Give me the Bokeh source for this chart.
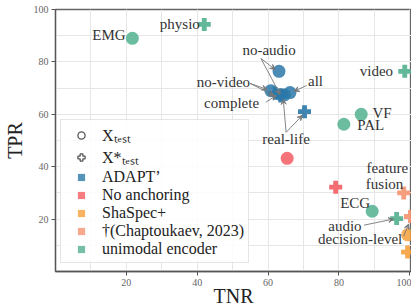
from bokeh.plotting import figure
from bokeh.models import (ColumnDataSource, FixedTicker, Legend, LegendItem,
                          Arrow, VeeHead, Range1d)
from bokeh.core.properties import value
from bokeh.embed import file_html
from bokeh.resources import INLINE

# ---------------- data ----------------
groups = ["ADAPT’", "No anchoring", "ShaSpec+", "†(Chaptoukaev, 2023)", "unimodal encoder"]
group_colors = ["#2a78a8", "#f25c62", "#f5a03c", "#f59470", "#52b08f"]

# X_test (circles)
circ_group = ["unimodal encoder", "unimodal encoder", "unimodal encoder", "unimodal encoder",
              "No anchoring", "ShaSpec+",
              "ADAPT’", "ADAPT’", "ADAPT’", "ADAPT’", "ADAPT’"]
circ_tnr = [21.7, 86.3, 81.4, 89.4, 65.4, 99.4, 63.1, 60.8, 63.5, 66.2, 64.6]
circ_tpr = [89.0, 60.0, 56.2, 23.0, 43.2, 14.0, 76.4, 69.0, 67.6, 68.3, 67.4]

# X*_test (plus)
plus_group = ["unimodal encoder", "unimodal encoder", "unimodal encoder",
              "No anchoring", "ShaSpec+", "†(Chaptoukaev, 2023)", "†(Chaptoukaev, 2023)",
              "ADAPT’", "ADAPT’", "ADAPT’"]
plus_tnr = [42.0, 98.6, 96.3, 79.1, 99.4, 98.3, 100.2, 70.3, 63.6, 62.0]
plus_tpr = [94.3, 76.4, 20.2, 32.2, 7.4, 30.0, 21.0, 61.0, 67.0, 68.0]

# annotation labels
lab_text = ["no-audio", "no-video", "complete", "all", "real-life", "video", "VF", "PAL",
            "physio", "EMG", "feature", "fusion", "ECG", "audio", "decision-level"]
lab_x = [60.3, 47.4, 49.7, 73.4, 65.1, 90.6, 92.2, 89.0, 35.1, 15.1, 93.7, 92.9, 84.6, 81.7, 86.0]
lab_y = [84.4, 72.2, 64.2, 72.9, 50.5, 76.4, 60.4, 55.8, 94.3, 90.1, 39.4, 33.3, 26.1, 17.3, 12.4]

# annotation arrows
arr_x0 = [58.0, 58.0, 54.9, 54.9, 59.4, 70.9, 65.1, 65.1, 87.1, 98.3]
arr_y0 = [81.3, 81.3, 71.8, 71.8, 64.6, 71.0, 53.1, 53.1, 17.7, 13.5]
arr_x1 = [62.0, 63.4, 59.7, 61.7, 62.3, 67.4, 64.3, 69.7, 95.4, 99.7]
arr_y1 = [77.1, 67.6, 69.5, 67.2, 67.2, 68.8, 65.7, 59.6, 20.0, 18.1]

x_ticks = [20, 40, 60, 80, 100]
y_ticks = [20, 40, 60, 80, 100]
minor = [0, 10, 20, 30, 40, 50, 60, 70, 80, 90, 100]

SERIF = "Liberation Serif"

# ---------------- figure ----------------
p = figure(frame_width=356, frame_height=262, output_backend="svg", toolbar_location=None,
           x_range=Range1d(0, 100.5), y_range=Range1d(0, 100),
           min_border_top=9, min_border_right=0, min_border_left=0, min_border_bottom=0)
p.background_fill_color = "white"
p.outline_line_color = "#666666"
p.outline_line_width = 1.3

for ax, t in ((p.xaxis, x_ticks), (p.yaxis, y_ticks)):
    ax.ticker = FixedTicker(ticks=t, minor_ticks=minor)
    ax.axis_line_color = "#555555"
    ax.axis_line_width = 1.3
    ax.major_tick_line_color = "#555555"
    ax.major_tick_out = 4
    ax.major_tick_in = 0
    ax.minor_tick_line_color = None
    ax.major_label_text_font = SERIF
    ax.major_label_text_font_size = "10px"
    ax.major_label_text_color = "#666666"
    ax.major_label_standoff = 3
    ax.axis_label_text_font = SERIF
    ax.axis_label_text_font_size = "20px"
    ax.axis_label_text_font_style = "normal"
    ax.axis_label_text_color = "#222222"

p.xaxis.axis_label = "TNR"
p.yaxis.axis_label = "TPR"
p.xaxis.axis_label_standoff = -4
p.xaxis.axis_label_text_line_height = 1.0
p.yaxis.axis_label_standoff = 5

for g in (p.xgrid, p.ygrid):
    g.grid_line_color = "#e6e6e6"
    g.minor_grid_line_color = "#e6e6e6"

cmap = dict(zip(groups, group_colors))

# draw groups (unimodal first, ADAPT last on top)
order = ["unimodal encoder", "†(Chaptoukaev, 2023)", "ShaSpec+", "No anchoring", "ADAPT’"]
for g in order:
    cx = [x for x, gg in zip(circ_tnr, circ_group) if gg == g]
    cy = [y for y, gg in zip(circ_tpr, circ_group) if gg == g]
    if cx:
        p.scatter(cx, cy, marker="circle", size=13, fill_color=cmap[g], fill_alpha=0.85,
                  line_color=None)
    px_ = [x for x, gg in zip(plus_tnr, plus_group) if gg == g]
    py_ = [y for y, gg in zip(plus_tpr, plus_group) if gg == g]
    if px_:
        p.scatter(px_, py_, marker="plus", size=13, fill_color=cmap[g], fill_alpha=0.9,
                  line_color=None)

# arrows
asrc = ColumnDataSource(dict(x0=arr_x0, y0=arr_y0, x1=arr_x1, y1=arr_y1))
p.add_layout(Arrow(x_start="x0", y_start="y0", x_end="x1", y_end="y1", source=asrc,
                   line_color="#777777", line_width=0.9,
                   end=VeeHead(size=5, line_color="#777777", line_width=0.9,
                               fill_color="#777777")))

# labels
lsrc = ColumnDataSource(dict(x=lab_x, y=lab_y, t=lab_text))
p.text(x="x", y="y", text="t", source=lsrc, text_font=value(SERIF),
       text_font_size="15px", text_align="center", text_baseline="middle",
       text_color="#333333")

# legend (proxy renderers placed outside the visible range)
OFF = [-1000]
items = []
r_c = p.scatter(OFF, OFF, marker="circle", size=12, fill_color="white", line_color="#555555",
                line_width=1.3)
items.append(LegendItem(label="Xₜₑₛₜ", renderers=[r_c]))
r_p = p.scatter(OFF, OFF, marker="plus", size=14, fill_color="white", line_color="#555555",
                line_width=1.3)
items.append(LegendItem(label="X*ₜₑₛₜ", renderers=[r_p]))
for g in groups:
    r = p.scatter(OFF, OFF, marker="square", size=12, fill_color=cmap[g], fill_alpha=0.8,
                  line_color=None)
    items.append(LegendItem(label=g, renderers=[r]))

leg = Legend(items=items, location=(5, 8), label_text_font=SERIF,
             label_text_font_size="16px", label_text_color="#222222",
             label_text_line_height=1.0,
             label_height=18, glyph_height=18, glyph_width=32, spacing=0,
             padding=4, margin=0, label_standoff=5,
             border_line_color="#cccccc", background_fill_alpha=0.85)
p.add_layout(leg, "center")

open("out.html", "w").write(file_html(p, INLINE))
